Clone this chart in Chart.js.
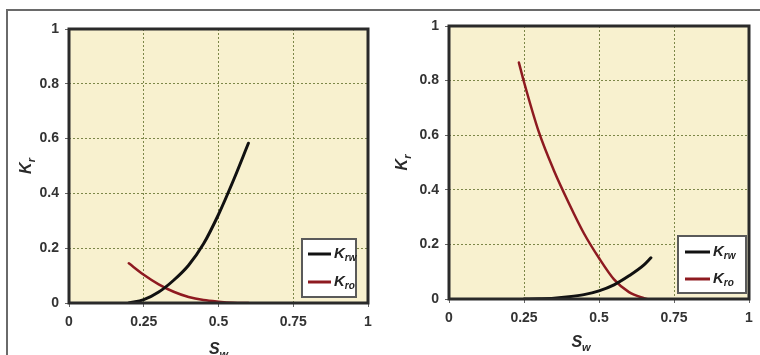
<!DOCTYPE html>
<html>
<head>
<meta charset="utf-8">
<script src="https://cdn.jsdelivr.net/npm/chart.js@4.4.1/dist/chart.umd.min.js"></script>
<style>
    body { margin: 0; background: #fff; }
    #wrap { position: relative; width: 760px; height: 355px; overflow: hidden; }
    #frame { position: absolute; left: 6px; top: 9px; width: 760px; height: 360px;
             border-top: 2px solid #6a6a6a; border-left: 2px solid #6a6a6a; }
    canvas { position: absolute; top: 0; }
</style>
</head>
<body>
<div id="wrap">
    <div id="frame"></div>
    <canvas id="leftChart" width="380" height="355" style="left:0"></canvas>
    <canvas id="rightChart" width="380" height="355" style="left:380px"></canvas>
</div>
<script>
// tick values
var xTicks = [0, 0.25, 0.5, 0.75, 1];
var yTicks = [0, 0.2, 0.4, 0.6, 0.8, 1];
var seriesNames = ["K_rw", "K_ro"];

// left panel
var leftKrwSw = [0.2, 0.25, 0.3, 0.35, 0.4, 0.45, 0.5, 0.55, 0.6];
var leftKrw   = [0, 0.012, 0.04, 0.083, 0.138, 0.216, 0.323, 0.448, 0.583];
var leftKroSw = [0.2, 0.25, 0.3, 0.35, 0.4, 0.45, 0.5, 0.55, 0.6];
var leftKro   = [0.145, 0.103, 0.068, 0.041, 0.022, 0.011, 0.005, 0.001, 0];

// right panel
var rightKrwSw = [0.25, 0.3, 0.35, 0.4, 0.45, 0.5, 0.55, 0.6, 0.65, 0.673];
var rightKrw   = [0, 0.001, 0.003, 0.008, 0.016, 0.03, 0.052, 0.085, 0.125, 0.151];
var rightKroSw = [0.233, 0.25, 0.3, 0.35, 0.4, 0.45, 0.5, 0.55, 0.6, 0.65, 0.66];
var rightKro   = [0.866, 0.795, 0.61, 0.47, 0.35, 0.24, 0.15, 0.072, 0.025, 0.003, 0];

var tickFont = { family: "'Liberation Sans', Arial, sans-serif", size: 14, weight: "bold" };

function toPoints(xs, ys) {
    return xs.map(function (x, i) { return { x: x, y: ys[i] }; });
}

// draws "K" then a smaller lowered subscript, starting at x
function drawSub(ctx, label, x, y, size, subSize, weight) {
    var parts = label.split("_");
    ctx.font = "italic " + weight + " " + size + "px 'Liberation Sans', Arial, sans-serif";
    ctx.fillText(parts[0], x, y);
    var w = ctx.measureText(parts[0]).width;
    ctx.font = "italic " + weight + " " + subSize + "px 'Liberation Sans', Arial, sans-serif";
    ctx.fillText(parts[1], x + w, y + size * 0.3);
    return w + ctx.measureText(parts[1]).width;
}

function subWidth(ctx, label, size, subSize, weight) {
    var parts = label.split("_");
    ctx.font = "italic " + weight + " " + size + "px 'Liberation Sans', Arial, sans-serif";
    var w = ctx.measureText(parts[0]).width;
    ctx.font = "italic " + weight + " " + subSize + "px 'Liberation Sans', Arial, sans-serif";
    return w + ctx.measureText(parts[1]).width;
}

var panelDecor = {
    id: "panelDecor",
    beforeDraw: function (chart) {
        var a = chart.chartArea, ctx = chart.ctx;
        ctx.save();
        ctx.fillStyle = "#f8f1cf";
        ctx.fillRect(a.left, a.top, a.right - a.left, a.bottom - a.top);
        ctx.restore();
    },
    afterDatasetsDraw: function (chart, args, opts) {
        var a = chart.chartArea, ctx = chart.ctx;
        ctx.save();
        // frame
        ctx.strokeStyle = "#2a2a2a";
        ctx.lineWidth = 3;
        ctx.strokeRect(a.left, a.top, a.right - a.left, a.bottom - a.top);

        // legend box
        var lg = opts.legend;
        var bx = a.right - lg.right - lg.w, by = a.bottom - lg.bottom - lg.h;
        ctx.fillStyle = "#ffffff";
        ctx.fillRect(bx, by, lg.w, lg.h);
        ctx.strokeStyle = "#5a5a5a";
        ctx.lineWidth = 2;
        ctx.strokeRect(bx, by, lg.w, lg.h);
        ctx.textBaseline = "middle";
        ctx.textAlign = "left";
        chart.data.datasets.forEach(function (ds, i) {
            var ry = by + lg.rowTop + i * lg.rowGap;
            ctx.strokeStyle = ds.borderColor;
            ctx.lineWidth = 3;
            ctx.beginPath();
            ctx.moveTo(bx + lg.swatchX, ry);
            ctx.lineTo(bx + lg.swatchX + lg.swatchW, ry);
            ctx.stroke();
            ctx.fillStyle = "#222";
            drawSub(ctx, ds.label, bx + lg.swatchX + lg.swatchW + 3, ry, 15, 10, "bold");
        });

        // axis titles
        ctx.fillStyle = "#2a2a2a";
        var xt = "S_w", yt = "K_r";
        var xw = subWidth(ctx, xt, 16, 11, "bold");
        var xc = a.left + (a.right - a.left) * opts.xTitleAt;
        drawSub(ctx, xt, xc - xw / 2, opts.xTitleY, 16, 11, "bold");
        ctx.translate(opts.yTitleX, a.top + (a.bottom - a.top) * 0.5);
        ctx.rotate(-Math.PI / 2);
        var yw = subWidth(ctx, yt, 16, 11, "bold");
        drawSub(ctx, yt, -yw / 2, 0, 16, 11, "bold");
        ctx.restore();
    }
};

function buildChart(id, krwSw, krw, kroSw, kro, layout) {
    var ctx = document.getElementById(id).getContext("2d");
    var data = {
        datasets: [
            {
                label: seriesNames[0],
                data: toPoints(krwSw, krw),
                borderColor: "#111111",
                borderWidth: 3
            },
            {
                label: seriesNames[1],
                data: toPoints(kroSw, kro),
                borderColor: "#8e1a20",
                borderWidth: 2.5
            }
        ]
    };
    var gridColor = function (c) {
        return (c.tick && (c.tick.value === 0 || c.tick.value === 1)) ? "rgba(0,0,0,0)" : "#7c8748";
    };
    var fmt = function (v) { return String(v); };
    var options = {
        responsive: false,
        devicePixelRatio: 1,
        animation: false,
        showLine: true,
        elements: {
            point: { radius: 0 },
            line: { cubicInterpolationMode: "monotone", borderCapStyle: "round" }
        },
        layout: { padding: { left: 0, top: layout.top, right: layout.right, bottom: 0 } },
        plugins: {
            legend: { display: false },
            tooltip: { enabled: false },
            panelDecor: layout.decor
        },
        scales: {
            x: {
                type: "linear",
                min: 0,
                max: 1,
                afterBuildTicks: function (s) { s.ticks = xTicks.map(function (v) { return { value: v }; }); },
                afterFit: function (s) { s.height = layout.xHeight; },
                ticks: { font: tickFont, color: "#333", padding: 7, maxRotation: 0, callback: fmt },
                grid: { color: gridColor, tickColor: "#666", tickLength: 4, lineWidth: 1 },
                border: { display: false, dash: [2, 2] }
            },
            y: {
                type: "linear",
                min: 0,
                max: 1,
                afterBuildTicks: function (s) { s.ticks = yTicks.map(function (v) { return { value: v }; }); },
                afterFit: function (s) { s.width = 69; },
                ticks: { font: tickFont, color: "#333", padding: 6, callback: fmt },
                grid: { color: gridColor, tickColor: "#666", tickLength: 4, lineWidth: 1 },
                border: { display: false, dash: [2, 2] }
            }
        }
    };
    new Chart(ctx, { type: "scatter", data: data, options: options, plugins: [panelDecor] });
}

buildChart("leftChart", leftKrwSw, leftKrw, leftKroSw, leftKro, {
    top: 29, right: 12, xHeight: 52,
    decor: {
        legend: { w: 54, h: 58, right: 12, bottom: 6, swatchX: 6, swatchW: 23, rowTop: 15, rowGap: 28 },
        xTitleAt: 0.5, xTitleY: 350, yTitleX: 27
    }
});

buildChart("rightChart", rightKrwSw, rightKrw, rightKroSw, rightKro, {
    top: 26, right: 11, xHeight: 56,
    decor: {
        legend: { w: 68, h: 57, right: 3, bottom: 6, swatchX: 7, swatchW: 25, rowTop: 16, rowGap: 27 },
        xTitleAt: 0.44, xTitleY: 343, yTitleX: 23
    }
});
</script>
</body>
</html>
